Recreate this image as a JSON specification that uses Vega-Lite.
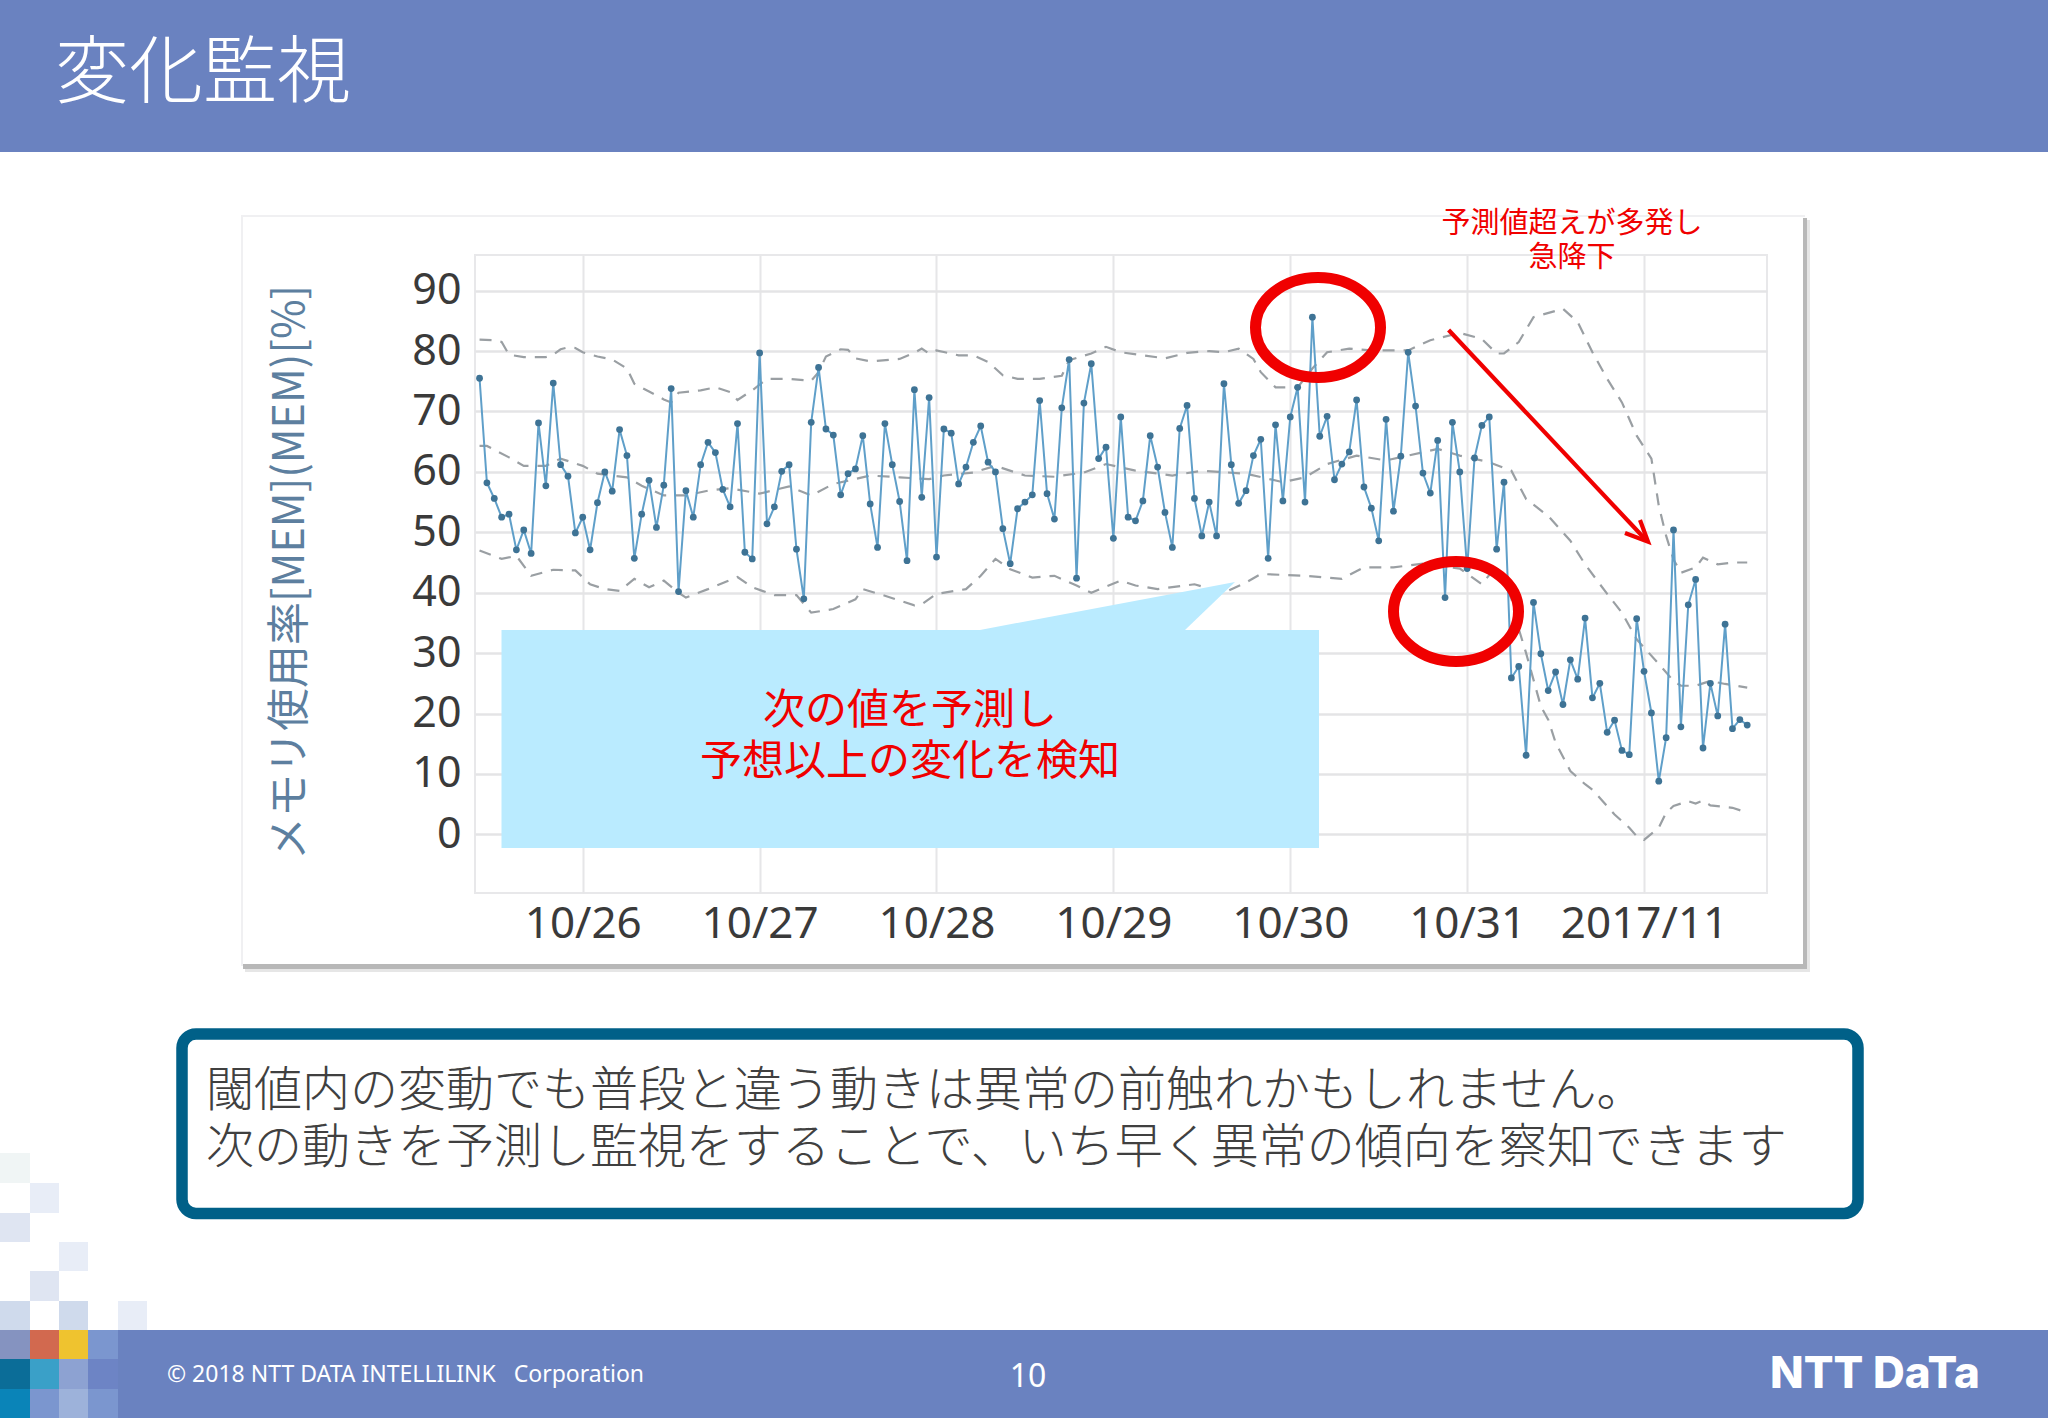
{
  "$schema": "https://vega.github.io/schema/vega-lite/v6.json",
  "description": "Slide: memory usage with predicted range, 2017/10/25 to 2017/11/1",
  "autosize": {"type": "none"},
  "padding": {"left": 475, "top": 255, "right": 281, "bottom": 525},
  "width": 1292,
  "height": 638,
  "background": "white",
  "config": {"view": {"stroke": "#e8e8ea", "strokeWidth": 2}},
  "datasets": {
    "usage": [
      {"time":"2017-10-25T10:00","value":75.5},{"time":"2017-10-25T11:00","value":58.2},{"time":"2017-10-25T12:00","value":55.6},{"time":"2017-10-25T13:00","value":52.5},{"time":"2017-10-25T14:00","value":53},{"time":"2017-10-25T15:00","value":47.1},{"time":"2017-10-25T16:00","value":50.4},{"time":"2017-10-25T17:00","value":46.5},{"time":"2017-10-25T18:00","value":68.1},{"time":"2017-10-25T19:00","value":57.7},{"time":"2017-10-25T20:00","value":74.7},{"time":"2017-10-25T21:00","value":61.2},{"time":"2017-10-25T22:00","value":59.3},{"time":"2017-10-25T23:00","value":49.9},
      {"time":"2017-10-26T00:00","value":52.5},{"time":"2017-10-26T01:00","value":47.1},{"time":"2017-10-26T02:00","value":54.9},{"time":"2017-10-26T03:00","value":60},{"time":"2017-10-26T04:00","value":56.8},{"time":"2017-10-26T05:00","value":67},{"time":"2017-10-26T06:00","value":62.7},{"time":"2017-10-26T07:00","value":45.7},{"time":"2017-10-26T08:00","value":53},{"time":"2017-10-26T09:00","value":58.6},{"time":"2017-10-26T10:00","value":50.8},{"time":"2017-10-26T11:00","value":57.8},{"time":"2017-10-26T12:00","value":73.8},{"time":"2017-10-26T13:00","value":40.2},{"time":"2017-10-26T14:00","value":56.9},{"time":"2017-10-26T15:00","value":52.5},{"time":"2017-10-26T16:00","value":61.2},{"time":"2017-10-26T17:00","value":64.9},{"time":"2017-10-26T18:00","value":63.2},{"time":"2017-10-26T19:00","value":57.1},{"time":"2017-10-26T20:00","value":54.2},{"time":"2017-10-26T21:00","value":68},{"time":"2017-10-26T22:00","value":46.7},{"time":"2017-10-26T23:00","value":45.6},
      {"time":"2017-10-27T00:00","value":79.7},{"time":"2017-10-27T01:00","value":51.4},{"time":"2017-10-27T02:00","value":54.2},{"time":"2017-10-27T03:00","value":60.1},{"time":"2017-10-27T04:00","value":61.2},{"time":"2017-10-27T05:00","value":47.2},{"time":"2017-10-27T06:00","value":39},{"time":"2017-10-27T07:00","value":68.2},{"time":"2017-10-27T08:00","value":77.3},{"time":"2017-10-27T09:00","value":67.1},{"time":"2017-10-27T10:00","value":66.1},{"time":"2017-10-27T11:00","value":56.2},{"time":"2017-10-27T12:00","value":59.7},{"time":"2017-10-27T13:00","value":60.5},{"time":"2017-10-27T14:00","value":66},{"time":"2017-10-27T15:00","value":54.7},{"time":"2017-10-27T16:00","value":47.5},{"time":"2017-10-27T17:00","value":68},{"time":"2017-10-27T18:00","value":61.2},{"time":"2017-10-27T19:00","value":55.1},{"time":"2017-10-27T20:00","value":45.3},{"time":"2017-10-27T21:00","value":73.6},{"time":"2017-10-27T22:00","value":55.8},{"time":"2017-10-27T23:00","value":72.3},
      {"time":"2017-10-28T00:00","value":45.9},{"time":"2017-10-28T01:00","value":67.1},{"time":"2017-10-28T02:00","value":66.4},{"time":"2017-10-28T03:00","value":58},{"time":"2017-10-28T04:00","value":60.8},{"time":"2017-10-28T05:00","value":64.9},{"time":"2017-10-28T06:00","value":67.6},{"time":"2017-10-28T07:00","value":61.6},{"time":"2017-10-28T08:00","value":60},{"time":"2017-10-28T09:00","value":50.6},{"time":"2017-10-28T10:00","value":44.8},{"time":"2017-10-28T11:00","value":53.9},{"time":"2017-10-28T12:00","value":55},{"time":"2017-10-28T13:00","value":56.2},{"time":"2017-10-28T14:00","value":71.8},{"time":"2017-10-28T15:00","value":56.4},{"time":"2017-10-28T16:00","value":52.2},{"time":"2017-10-28T17:00","value":70.6},{"time":"2017-10-28T18:00","value":78.6},{"time":"2017-10-28T19:00","value":42.4},{"time":"2017-10-28T20:00","value":71.4},{"time":"2017-10-28T21:00","value":77.9},{"time":"2017-10-28T22:00","value":62.2},{"time":"2017-10-28T23:00","value":64.1},
      {"time":"2017-10-29T00:00","value":49},{"time":"2017-10-29T01:00","value":69.1},{"time":"2017-10-29T02:00","value":52.5},{"time":"2017-10-29T03:00","value":51.9},{"time":"2017-10-29T04:00","value":55.2},{"time":"2017-10-29T05:00","value":66},{"time":"2017-10-29T06:00","value":60.8},{"time":"2017-10-29T07:00","value":53.3},{"time":"2017-10-29T08:00","value":47.5},{"time":"2017-10-29T09:00","value":67.2},{"time":"2017-10-29T10:00","value":71},{"time":"2017-10-29T11:00","value":55.6},{"time":"2017-10-29T12:00","value":49.4},{"time":"2017-10-29T13:00","value":55},{"time":"2017-10-29T14:00","value":49.4},{"time":"2017-10-29T15:00","value":74.6},{"time":"2017-10-29T16:00","value":61.2},{"time":"2017-10-29T17:00","value":54.8},{"time":"2017-10-29T18:00","value":56.9},{"time":"2017-10-29T19:00","value":62.7},{"time":"2017-10-29T20:00","value":65.4},{"time":"2017-10-29T21:00","value":45.7},{"time":"2017-10-29T22:00","value":67.8},{"time":"2017-10-29T23:00","value":55.2},
      {"time":"2017-10-30T00:00","value":69.1},{"time":"2017-10-30T01:00","value":74},{"time":"2017-10-30T02:00","value":55},{"time":"2017-10-30T03:00","value":85.6},{"time":"2017-10-30T04:00","value":65.9},{"time":"2017-10-30T05:00","value":69.2},{"time":"2017-10-30T06:00","value":58.7},{"time":"2017-10-30T07:00","value":61.3},{"time":"2017-10-30T08:00","value":63.3},{"time":"2017-10-30T09:00","value":71.9},{"time":"2017-10-30T10:00","value":57.5},{"time":"2017-10-30T11:00","value":54},{"time":"2017-10-30T12:00","value":48.6},{"time":"2017-10-30T13:00","value":68.7},{"time":"2017-10-30T14:00","value":53.5},{"time":"2017-10-30T15:00","value":62.6},{"time":"2017-10-30T16:00","value":79.8},{"time":"2017-10-30T17:00","value":70.9},{"time":"2017-10-30T18:00","value":59.8},{"time":"2017-10-30T19:00","value":56.5},{"time":"2017-10-30T20:00","value":65.2},{"time":"2017-10-30T21:00","value":39.2},{"time":"2017-10-30T22:00","value":68.2},{"time":"2017-10-30T23:00","value":60},
      {"time":"2017-10-31T00:00","value":44},{"time":"2017-10-31T01:00","value":62.3},{"time":"2017-10-31T02:00","value":67.7},{"time":"2017-10-31T03:00","value":69.1},{"time":"2017-10-31T04:00","value":47.2},{"time":"2017-10-31T05:00","value":58.3},{"time":"2017-10-31T06:00","value":25.9},{"time":"2017-10-31T07:00","value":27.8},{"time":"2017-10-31T08:00","value":13.1},{"time":"2017-10-31T09:00","value":38.4},{"time":"2017-10-31T10:00","value":29.9},{"time":"2017-10-31T11:00","value":23.8},{"time":"2017-10-31T12:00","value":26.9},{"time":"2017-10-31T13:00","value":21.5},{"time":"2017-10-31T14:00","value":28.9},{"time":"2017-10-31T15:00","value":25.7},{"time":"2017-10-31T16:00","value":35.8},{"time":"2017-10-31T17:00","value":22.6},{"time":"2017-10-31T18:00","value":25},{"time":"2017-10-31T19:00","value":16.9},{"time":"2017-10-31T20:00","value":18.9},{"time":"2017-10-31T21:00","value":13.9},{"time":"2017-10-31T22:00","value":13.2},{"time":"2017-10-31T23:00","value":35.7},
      {"time":"2017-11-01T00:00","value":27},{"time":"2017-11-01T01:00","value":20.1},{"time":"2017-11-01T02:00","value":8.8},{"time":"2017-11-01T03:00","value":16},{"time":"2017-11-01T04:00","value":50.4},{"time":"2017-11-01T05:00","value":17.8},{"time":"2017-11-01T06:00","value":38},{"time":"2017-11-01T07:00","value":42.2},{"time":"2017-11-01T08:00","value":14.3},{"time":"2017-11-01T09:00","value":25},{"time":"2017-11-01T10:00","value":19.6},{"time":"2017-11-01T11:00","value":34.8},{"time":"2017-11-01T12:00","value":17.5},{"time":"2017-11-01T13:00","value":19},{"time":"2017-11-01T14:00","value":18.1}
    ],
    "predicted": [
      {"band":"upper","time":"2017-10-25T10:00","value":81.9},{"band":"upper","time":"2017-10-25T12:00","value":81.8},{"band":"upper","time":"2017-10-25T13:00","value":81.5},{"band":"upper","time":"2017-10-25T14:00","value":79.4},{"band":"upper","time":"2017-10-25T16:00","value":79},{"band":"upper","time":"2017-10-25T19:00","value":79},{"band":"upper","time":"2017-10-25T20:00","value":79.4},{"band":"upper","time":"2017-10-25T21:00","value":80.3},{"band":"upper","time":"2017-10-25T22:00","value":80.6},{"band":"upper","time":"2017-10-25T23:00","value":80.5},
      {"band":"upper","time":"2017-10-26T00:00","value":79.8},{"band":"upper","time":"2017-10-26T02:00","value":79.1},{"band":"upper","time":"2017-10-26T04:00","value":78.6},{"band":"upper","time":"2017-10-26T06:00","value":77.1},{"band":"upper","time":"2017-10-26T07:00","value":74.6},{"band":"upper","time":"2017-10-26T09:00","value":73.3},{"band":"upper","time":"2017-10-26T11:00","value":72},{"band":"upper","time":"2017-10-26T12:00","value":71.5},{"band":"upper","time":"2017-10-26T13:00","value":73.1},{"band":"upper","time":"2017-10-26T16:00","value":73.5},{"band":"upper","time":"2017-10-26T18:00","value":74},{"band":"upper","time":"2017-10-26T20:00","value":73.2},{"band":"upper","time":"2017-10-26T21:00","value":71.9},{"band":"upper","time":"2017-10-26T23:00","value":73.5},
      {"band":"upper","time":"2017-10-27T01:00","value":75.4},{"band":"upper","time":"2017-10-27T04:00","value":75.4},{"band":"upper","time":"2017-10-27T07:00","value":75.1},{"band":"upper","time":"2017-10-27T08:00","value":76.5},{"band":"upper","time":"2017-10-27T09:00","value":79.1},{"band":"upper","time":"2017-10-27T11:00","value":80.3},{"band":"upper","time":"2017-10-27T12:00","value":80.2},{"band":"upper","time":"2017-10-27T13:00","value":78.8},{"band":"upper","time":"2017-10-27T15:00","value":78.3},{"band":"upper","time":"2017-10-27T19:00","value":78.7},{"band":"upper","time":"2017-10-27T21:00","value":79.7},{"band":"upper","time":"2017-10-27T22:00","value":80.4},{"band":"upper","time":"2017-10-27T23:00","value":79.6},
      {"band":"upper","time":"2017-10-28T00:00","value":80.1},{"band":"upper","time":"2017-10-28T03:00","value":79.3},{"band":"upper","time":"2017-10-28T05:00","value":79.3},{"band":"upper","time":"2017-10-28T07:00","value":78.2},{"band":"upper","time":"2017-10-28T09:00","value":76},{"band":"upper","time":"2017-10-28T11:00","value":75.4},{"band":"upper","time":"2017-10-28T14:00","value":75.4},{"band":"upper","time":"2017-10-28T17:00","value":75.9},{"band":"upper","time":"2017-10-28T18:00","value":78.5},{"band":"upper","time":"2017-10-28T21:00","value":79.6},{"band":"upper","time":"2017-10-28T23:00","value":80.7},
      {"band":"upper","time":"2017-10-29T01:00","value":79.8},{"band":"upper","time":"2017-10-29T07:00","value":78.8},{"band":"upper","time":"2017-10-29T10:00","value":79.7},{"band":"upper","time":"2017-10-29T13:00","value":80},{"band":"upper","time":"2017-10-29T15:00","value":79.8},{"band":"upper","time":"2017-10-29T17:00","value":80.4},{"band":"upper","time":"2017-10-29T19:00","value":78.7},{"band":"upper","time":"2017-10-29T20:00","value":76.5},{"band":"upper","time":"2017-10-29T22:00","value":74},
      {"band":"upper","time":"2017-10-30T01:00","value":74},{"band":"upper","time":"2017-10-30T03:00","value":77.1},{"band":"upper","time":"2017-10-30T05:00","value":79.8},{"band":"upper","time":"2017-10-30T08:00","value":80.4},{"band":"upper","time":"2017-10-30T11:00","value":80.1},{"band":"upper","time":"2017-10-30T16:00","value":80.1},{"band":"upper","time":"2017-10-30T19:00","value":81.8},{"band":"upper","time":"2017-10-30T23:00","value":83},
      {"band":"upper","time":"2017-10-31T02:00","value":82},{"band":"upper","time":"2017-10-31T04:00","value":79.6},{"band":"upper","time":"2017-10-31T05:00","value":79.6},{"band":"upper","time":"2017-10-31T07:00","value":81.5},{"band":"upper","time":"2017-10-31T09:00","value":85.6},{"band":"upper","time":"2017-10-31T13:00","value":87},{"band":"upper","time":"2017-10-31T15:00","value":84.8},{"band":"upper","time":"2017-10-31T17:00","value":79.8},{"band":"upper","time":"2017-10-31T19:00","value":75.4},{"band":"upper","time":"2017-10-31T21:00","value":71.5},{"band":"upper","time":"2017-10-31T23:00","value":66},
      {"band":"upper","time":"2017-11-01T01:00","value":62.2},{"band":"upper","time":"2017-11-01T02:00","value":54.4},{"band":"upper","time":"2017-11-01T03:00","value":49.4},{"band":"upper","time":"2017-11-01T04:00","value":45.5},{"band":"upper","time":"2017-11-01T05:00","value":43.3},{"band":"upper","time":"2017-11-01T07:00","value":44.2},{"band":"upper","time":"2017-11-01T08:00","value":45.8},{"band":"upper","time":"2017-11-01T10:00","value":44.7},{"band":"upper","time":"2017-11-01T12:00","value":45},{"band":"upper","time":"2017-11-01T14:00","value":45},
      {"band":"center","time":"2017-10-25T10:00","value":64.3},{"band":"center","time":"2017-10-25T11:00","value":64.3},{"band":"center","time":"2017-10-25T14:00","value":62.4},{"band":"center","time":"2017-10-25T16:00","value":61},{"band":"center","time":"2017-10-25T19:00","value":61},{"band":"center","time":"2017-10-25T21:00","value":62.2},{"band":"center","time":"2017-10-26T00:00","value":61},{"band":"center","time":"2017-10-26T02:00","value":59.7},{"band":"center","time":"2017-10-26T06:00","value":59.1},{"band":"center","time":"2017-10-26T08:00","value":57.7},{"band":"center","time":"2017-10-26T11:00","value":56.1},{"band":"center","time":"2017-10-26T14:00","value":56.1},{"band":"center","time":"2017-10-26T17:00","value":56.9},{"band":"center","time":"2017-10-26T20:00","value":57.3},{"band":"center","time":"2017-10-27T00:00","value":56.4},{"band":"center","time":"2017-10-27T04:00","value":57.6},{"band":"center","time":"2017-10-27T07:00","value":56.1},{"band":"center","time":"2017-10-27T10:00","value":58},{"band":"center","time":"2017-10-27T15:00","value":59.4},{"band":"center","time":"2017-10-27T19:00","value":59.1},{"band":"center","time":"2017-10-27T23:00","value":58.8},{"band":"center","time":"2017-10-28T01:00","value":59.4},{"band":"center","time":"2017-10-28T05:00","value":59.9},{"band":"center","time":"2017-10-28T08:00","value":61},{"band":"center","time":"2017-10-28T12:00","value":59.4},{"band":"center","time":"2017-10-28T16:00","value":59.2},{"band":"center","time":"2017-10-28T20:00","value":59.9},{"band":"center","time":"2017-10-28T23:00","value":61.3},{"band":"center","time":"2017-10-29T03:00","value":60.2},{"band":"center","time":"2017-10-29T08:00","value":59.4},{"band":"center","time":"2017-10-29T12:00","value":60.2},{"band":"center","time":"2017-10-29T18:00","value":59.7},{"band":"center","time":"2017-10-29T23:00","value":58.3},{"band":"center","time":"2017-10-30T02:00","value":59.1},{"band":"center","time":"2017-10-30T05:00","value":61.3},{"band":"center","time":"2017-10-30T09:00","value":62.7},{"band":"center","time":"2017-10-30T13:00","value":61.9},{"band":"center","time":"2017-10-30T16:00","value":62.7},{"band":"center","time":"2017-10-30T20:00","value":63.8},{"band":"center","time":"2017-10-30T23:00","value":62.7},{"band":"center","time":"2017-10-31T03:00","value":61.6},{"band":"center","time":"2017-10-31T06:00","value":60.2},{"band":"center","time":"2017-10-31T08:00","value":55.5},{"band":"center","time":"2017-10-31T11:00","value":52.7},{"band":"center","time":"2017-10-31T14:00","value":48.6},{"band":"center","time":"2017-10-31T16:00","value":44.7},{"band":"center","time":"2017-10-31T19:00","value":39.8},{"band":"center","time":"2017-10-31T21:00","value":36.7},{"band":"center","time":"2017-10-31T23:00","value":32.3},{"band":"center","time":"2017-11-01T02:00","value":28.2},{"band":"center","time":"2017-11-01T04:00","value":25.4},{"band":"center","time":"2017-11-01T05:00","value":24.6},{"band":"center","time":"2017-11-01T07:00","value":24.6},{"band":"center","time":"2017-11-01T09:00","value":25.4},{"band":"center","time":"2017-11-01T11:00","value":24.9},{"band":"center","time":"2017-11-01T14:00","value":24.3},
      {"band":"lower","time":"2017-10-25T10:00","value":47},{"band":"lower","time":"2017-10-25T13:00","value":45.6},{"band":"lower","time":"2017-10-25T15:00","value":46.1},{"band":"lower","time":"2017-10-25T17:00","value":42.8},{"band":"lower","time":"2017-10-25T20:00","value":43.8},{"band":"lower","time":"2017-10-25T23:00","value":43.7},{"band":"lower","time":"2017-10-26T01:00","value":41.4},{"band":"lower","time":"2017-10-26T03:00","value":40.6},{"band":"lower","time":"2017-10-26T05:00","value":40.3},{"band":"lower","time":"2017-10-26T07:00","value":42.3},{"band":"lower","time":"2017-10-26T09:00","value":40.9},{"band":"lower","time":"2017-10-26T11:00","value":42},{"band":"lower","time":"2017-10-26T13:00","value":40},{"band":"lower","time":"2017-10-26T14:00","value":39.2},{"band":"lower","time":"2017-10-26T17:00","value":40.6},{"band":"lower","time":"2017-10-26T21:00","value":42.6},{"band":"lower","time":"2017-10-26T23:00","value":40.9},{"band":"lower","time":"2017-10-27T02:00","value":39.6},{"band":"lower","time":"2017-10-27T05:00","value":39.6},{"band":"lower","time":"2017-10-27T07:00","value":36.7},{"band":"lower","time":"2017-10-27T10:00","value":37.3},{"band":"lower","time":"2017-10-27T13:00","value":38.9},{"band":"lower","time":"2017-10-27T14:00","value":40.6},{"band":"lower","time":"2017-10-27T17:00","value":39.5},{"band":"lower","time":"2017-10-27T21:00","value":37.9},{"band":"lower","time":"2017-10-27T22:00","value":38.1},{"band":"lower","time":"2017-10-28T00:00","value":39.8},{"band":"lower","time":"2017-10-28T04:00","value":40.6},{"band":"lower","time":"2017-10-28T06:00","value":42.8},{"band":"lower","time":"2017-10-28T08:00","value":45.6},{"band":"lower","time":"2017-10-28T10:00","value":43.9},{"band":"lower","time":"2017-10-28T13:00","value":42.5},{"band":"lower","time":"2017-10-28T16:00","value":42.8},{"band":"lower","time":"2017-10-28T19:00","value":41.2},{"band":"lower","time":"2017-10-28T21:00","value":40},{"band":"lower","time":"2017-10-29T01:00","value":42},{"band":"lower","time":"2017-10-29T03:00","value":41.2},{"band":"lower","time":"2017-10-29T06:00","value":40.6},{"band":"lower","time":"2017-10-29T11:00","value":41.4},{"band":"lower","time":"2017-10-29T15:00","value":40},{"band":"lower","time":"2017-10-29T18:00","value":41.7},{"band":"lower","time":"2017-10-29T20:00","value":43.1},{"band":"lower","time":"2017-10-30T02:00","value":42.8},{"band":"lower","time":"2017-10-30T07:00","value":42.3},{"band":"lower","time":"2017-10-30T10:00","value":44.2},{"band":"lower","time":"2017-10-30T14:00","value":44.2},{"band":"lower","time":"2017-10-30T18:00","value":44.8},{"band":"lower","time":"2017-10-30T23:00","value":44},{"band":"lower","time":"2017-10-31T02:00","value":41.4},{"band":"lower","time":"2017-10-31T04:00","value":44.5},{"band":"lower","time":"2017-10-31T06:00","value":39},{"band":"lower","time":"2017-10-31T07:00","value":34},{"band":"lower","time":"2017-10-31T08:00","value":30},{"band":"lower","time":"2017-10-31T10:00","value":21.2},{"band":"lower","time":"2017-10-31T11:00","value":19},{"band":"lower","time":"2017-10-31T12:00","value":15.2},{"band":"lower","time":"2017-10-31T14:00","value":10.5},{"band":"lower","time":"2017-10-31T16:00","value":8.3},{"band":"lower","time":"2017-10-31T17:00","value":7.4},{"band":"lower","time":"2017-10-31T20:00","value":3.3},{"band":"lower","time":"2017-10-31T22:00","value":1.1},{"band":"lower","time":"2017-10-31T23:00","value":-0.3},{"band":"lower","time":"2017-11-01T00:00","value":-0.9},{"band":"lower","time":"2017-11-01T02:00","value":1.1},{"band":"lower","time":"2017-11-01T03:00","value":3.6},{"band":"lower","time":"2017-11-01T04:00","value":4.7},{"band":"lower","time":"2017-11-01T06:00","value":5.5},{"band":"lower","time":"2017-11-01T07:00","value":5.1},{"band":"lower","time":"2017-11-01T08:00","value":5.6},{"band":"lower","time":"2017-11-01T09:00","value":4.8},{"band":"lower","time":"2017-11-01T12:00","value":4.4},{"band":"lower","time":"2017-11-01T14:00","value":3.6}
    ]
  },
  "resolve": {"scale": {"x": "independent", "y": "independent"}},
  "layer": [
    {
      "encoding": {
        "x": {"field": "x", "type": "quantitative", "axis": null, "scale": {"domain": [475, 1767], "nice": false, "zero": false}},
        "y": {"field": "y", "type": "quantitative", "axis": null, "scale": {"domain": [893, 255], "nice": false, "zero": false}}
      },
      "layer": [
        {
          "data": {"values": [
            {"part":"bar","x":0,"x2":2048,"y":0,"y2":152},
            {"part":"bar","x":0,"x2":2048,"y":1330,"y2":1418},
            {"part":"edge","x":241,"x2":243,"y":215,"y2":966},
            {"part":"edge","x":241,"x2":1805,"y":215,"y2":217},
            {"part":"shadow2","x":1807,"x2":1810,"y":220,"y2":972},
            {"part":"shadow2","x":245,"x2":1810,"y":969,"y2":972},
            {"part":"shadow","x":1803,"x2":1807,"y":218,"y2":968},
            {"part":"shadow","x":243,"x2":1807,"y":964,"y2":969},
            {"part":"pale1","x":0,"x2":30,"y":1153,"y2":1183},
            {"part":"pale2","x":30,"x2":59,"y":1183,"y2":1213},
            {"part":"pale3","x":0,"x2":30,"y":1213,"y2":1242},
            {"part":"pale2","x":59,"x2":88,"y":1242,"y2":1271},
            {"part":"pale3","x":30,"x2":59,"y":1271,"y2":1301},
            {"part":"pale4","x":0,"x2":30,"y":1301,"y2":1330},
            {"part":"pale4","x":59,"x2":88,"y":1301,"y2":1330},
            {"part":"pale2","x":118,"x2":147,"y":1301,"y2":1330},
            {"part":"slate","x":0,"x2":30,"y":1330,"y2":1359},
            {"part":"red","x":30,"x2":59,"y":1330,"y2":1359},
            {"part":"yellow","x":59,"x2":88,"y":1330,"y2":1359},
            {"part":"blue1","x":88,"x2":118,"y":1330,"y2":1359},
            {"part":"teal1","x":0,"x2":30,"y":1359,"y2":1389},
            {"part":"teal2","x":30,"x2":59,"y":1359,"y2":1389},
            {"part":"blue3","x":59,"x2":88,"y":1359,"y2":1389},
            {"part":"blue2","x":88,"x2":118,"y":1359,"y2":1389},
            {"part":"teal3","x":0,"x2":30,"y":1389,"y2":1418},
            {"part":"blue1","x":30,"x2":59,"y":1389,"y2":1418},
            {"part":"blue4","x":59,"x2":88,"y":1389,"y2":1418},
            {"part":"blue1","x":88,"x2":118,"y":1389,"y2":1418}
          ]},
          "mark": {"type": "rect"},
          "encoding": {
            "x2": {"field": "x2"},
            "y2": {"field": "y2"},
            "color": {
              "field": "part",
              "type": "nominal",
              "legend": null,
              "scale": {
                "domain": ["bar","edge","shadow","shadow2","pale1","pale2","pale3","pale4","slate","red","yellow","blue1","blue2","blue3","blue4","teal1","teal2","teal3"],
                "range": ["#6a82c0","#f0f0f2","#b8b8b8","#e6e6e6","#f0f5f5","#e8edf7","#dfe5f2","#cfdaec","#8593c0","#d2694f","#efc32f","#7b96cf","#6d84c5","#8da2d2","#9db2da","#0b6d98","#3aa0c8","#0a84b8"]
              }
            }
          }
        }
      ]
    },
    {
      "encoding": {
        "x": {
          "field": "time",
          "type": "temporal",
          "title": null,
          "scale": {"type": "time", "domain": [{"year":2017,"month":10,"date":25,"hours":9,"minutes":23},{"year":2017,"month":11,"date":1,"hours":16,"minutes":41}]},
          "axis": {
            "values": [{"year":2017,"month":10,"date":26},{"year":2017,"month":10,"date":27},{"year":2017,"month":10,"date":28},{"year":2017,"month":10,"date":29},{"year":2017,"month":10,"date":30},{"year":2017,"month":10,"date":31},{"year":2017,"month":11,"date":1}],
            "labelExpr": "month(datum.value) == 9 ? '10/' + date(datum.value) : '2017/11'",
            "grid": true, "gridColor": "#e6e6e8", "gridWidth": 2,
            "ticks": false, "domain": false,
            "labelFont": "Noto Sans", "labelFontSize": 44, "labelColor": "#3a3a3a", "labelPadding": 9,
            "labelOverlap": false, "labelFlush": false, "labelAngle": 0
          }
        },
        "y": {
          "field": "value",
          "type": "quantitative",
          "title": "メモリ使用率[MEM](MEM)[%]",
          "scale": {"domain": [-9.7, 95.9], "nice": false, "zero": false},
          "axis": {
            "values": [0,10,20,30,40,50,60,70,80,90],
            "grid": true, "gridColor": "#e4e4e6", "gridWidth": 2.4,
            "ticks": false, "domain": false,
            "labelFont": "Noto Sans", "labelFontSize": 43, "labelColor": "#3a3a3a", "labelPadding": 14,
            "titleFont": "Noto Sans CJK JP", "titleFontSize": 43, "titleFontWeight": "normal", "titleColor": "#5d7f9f",
            "titleX": -185, "titleY": 317, "titleAngle": -90, "titleAlign": "center", "titleBaseline": "middle"
          }
        }
      },
      "layer": [
        {
          "data": {"name": "predicted"},
          "mark": {"type": "line", "color": "#9a9fa3", "strokeWidth": 2.2, "strokeDash": [12, 9]},
          "encoding": {"detail": {"field": "band"}}
        },
        {
          "data": {"name": "usage"},
          "mark": {"type": "line", "color": "#5f9fc9", "strokeWidth": 2}
        },
        {
          "data": {"name": "usage"},
          "mark": {"type": "point", "filled": true, "opacity": 1, "color": "#3e7395", "size": 46}
        }
      ]
    },
    {
      "encoding": {
        "x": {"field": "x", "type": "quantitative", "axis": null, "scale": {"domain": [475, 1767], "nice": false, "zero": false}},
        "y": {"field": "y", "type": "quantitative", "axis": null, "scale": {"domain": [893, 255], "nice": false, "zero": false}}
      },
      "layer": [
        {
          "data": {"values": [{"x":501.5,"x2":1319,"y":630,"y2":848}]},
          "mark": {"type": "rect", "color": "#baebff"},
          "encoding": {"x2": {"field": "x2"}, "y2": {"field": "y2"}}
        },
        {
          "data": {"values": [{"x":980,"y":630,"y2":630},{"x":1185,"y":591.4,"y2":630},{"x":1235,"y":582,"y2":582}]},
          "mark": {"type": "area", "color": "#baebff", "opacity": 1},
          "encoding": {"y2": {"field": "y2"}}
        },
        {
          "data": {"values": [{"x":1318,"y":327.5},{"x":1456,"y":611.5}]},
          "mark": {
            "type": "point",
            "shape": "M-1,0A1,0.8,0,1,1,1,0A1,0.8,0,1,1,-1,0Z",
            "filled": false,
            "opacity": 1,
            "color": "#f00000",
            "strokeWidth": 11,
            "size": 15625
          }
        },
        {
          "data": {"values": [
            {"part":"shaft","seq":1,"x":1448.6,"y":330},
            {"part":"shaft","seq":2,"x":1646,"y":540},
            {"part":"head","seq":1,"x":1640,"y":520},
            {"part":"head","seq":2,"x":1648,"y":541.7},
            {"part":"head","seq":3,"x":1625,"y":533}
          ]},
          "mark": {"type": "line", "color": "#f00000", "strokeWidth": 4.2},
          "encoding": {"detail": {"field": "part"}, "order": {"field": "seq"}}
        },
        {
          "data": {"values": [{"x":182,"x2":1858,"y":1034,"y2":1213.5}]},
          "mark": {"type": "rect", "fill": "transparent", "stroke": "#006088", "strokeWidth": 11.5, "cornerRadius": 14},
          "encoding": {"x2": {"field": "x2"}, "y2": {"field": "y2"}}
        },
        {
          "data": {"values": [{"x":55,"y":75,"text":"変化監視"}]},
          "mark": {"type": "text", "align": "left", "baseline": "middle", "font": "Noto Sans CJK JP", "fontWeight": 300, "fontSize": 74, "color": "white"},
          "encoding": {"text": {"field": "text"}}
        },
        {
          "data": {"values": [{"x":1572,"y":224,"text":["予測値超えが多発し","急降下"]}]},
          "mark": {"type": "text", "align": "center", "baseline": "middle", "lineHeight": 34, "font": "Noto Sans CJK JP", "fontSize": 29, "color": "#f00000"},
          "encoding": {"text": {"field": "text"}}
        },
        {
          "data": {"values": [{"x":910,"y":711,"text":["次の値を予測し","予想以上の変化を検知"]}]},
          "mark": {"type": "text", "align": "center", "baseline": "middle", "lineHeight": 51, "font": "Noto Sans CJK JP", "fontSize": 42, "color": "#f00000"},
          "encoding": {"text": {"field": "text"}}
        },
        {
          "data": {"values": [{"x":206,"y":1092,"text":["閾値内の変動でも普段と違う動きは異常の前触れかもしれません。","次の動きを予測し監視をすることで、いち早く異常の傾向を察知できます"]}]},
          "mark": {"type": "text", "align": "left", "baseline": "middle", "lineHeight": 57, "font": "Noto Sans CJK JP", "fontWeight": 300, "fontSize": 48, "color": "#404040"},
          "encoding": {"text": {"field": "text"}}
        },
        {
          "data": {"values": [{"x":167,"y":1375,"text":"© 2018 NTT DATA INTELLILINK\u00a0\u00a0\u00a0Corporation"}]},
          "mark": {"type": "text", "align": "left", "baseline": "middle", "font": "Noto Sans", "fontSize": 23, "color": "white"},
          "encoding": {"text": {"field": "text"}}
        },
        {
          "data": {"values": [{"x":1028,"y":1377,"text":"10"}]},
          "mark": {"type": "text", "align": "center", "baseline": "middle", "font": "Noto Sans", "fontSize": 32, "color": "white"},
          "encoding": {"text": {"field": "text"}}
        },
        {
          "data": {"values": [{"x":1875,"y":1375,"text":"NTT DaTa"}]},
          "mark": {"type": "text", "align": "center", "baseline": "middle", "font": "Inter", "fontWeight": 800, "fontSize": 44, "color": "white"},
          "encoding": {"text": {"field": "text"}}
        }
      ]
    }
  ]
}
